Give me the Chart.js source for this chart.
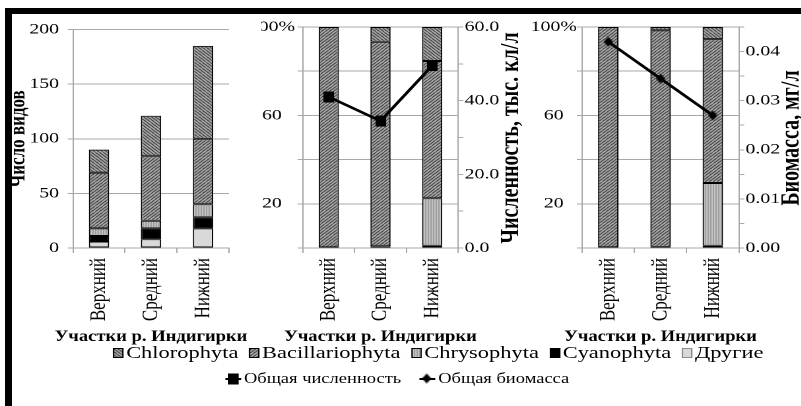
<!DOCTYPE html>
<html><head><meta charset="utf-8">
<script src="https://cdn.jsdelivr.net/npm/chart.js@4"></script>
<style>
html,body{margin:0;padding:0;background:#fff;width:801px;height:406px;overflow:hidden;}
#stage{position:absolute;left:0;top:0;width:607px;height:406px;transform:scaleX(1.32);transform-origin:0 0;}
.wrap{position:absolute;top:14px;height:338px;}
#frame{position:absolute;left:5px;top:8px;width:796px;height:398px;border-top:6px solid #000;border-left:7px solid #000;box-sizing:border-box;z-index:5;pointer-events:none;}
.legend{position:absolute;white-space:nowrap;font-family:'Liberation Serif';font-size:17px;line-height:20px;color:#000;display:flex;align-items:center;transform:translateX(-50%);}
.item{display:flex;align-items:center;margin:0 4px;}
.item canvas{margin-right:2px;}
</style></head>
<body>
<div id="stage">
  <div class="wrap" style="left:0px;width:198px"><canvas id="c1"></canvas></div>
  <div class="wrap" style="left:198px;width:198px"><canvas id="c2"></canvas></div>
  <div class="wrap" style="left:396px;width:216px"><canvas id="c3"></canvas></div>
  <div class="legend" id="leg1" style="left:332px;top:343px"></div>
  <div class="legend" id="leg2" style="left:301px;top:369px;font-size:14px"></div>
</div>
<div id="frame"></div>
<script>
// ---- data ----
const categories = ['Верхний', 'Средний', 'Нижний'];
const groupNames = ['Chlorophyta', 'Bacillariophyta', 'Chrysophyta', 'Cyanophyta', 'Другие'];
const lineNames = ['Общая численность', 'Общая биомасса'];
// Panel 1: number of species
const speciesChlorophyta = [21, 37, 85];
const speciesBacillariophyta = [51, 59, 60];
const speciesChrysophyta = [7, 7, 12];
const speciesCyanophyta = [5, 10, 10];
const speciesOther = [6, 8, 18];
// Panel 2: share of abundance, %
const abundChlorophyta = [0, 6.7, 15.4];
const abundBacillariophyta = [100, 92.5, 62.1];
const abundChrysophyta = [0, 0, 21.5];
const abundCyanophyta = [0, 0, 0];
const abundOther = [0, 0.8, 1.0];
const totalAbundance = [41, 34.5, 49.5];
// Panel 3: share of biomass, %
const bioChlorophyta = [0, 1.5, 5.5];
const bioBacillariophyta = [100, 98.0, 65.1];
const bioChrysophyta = [0, 0, 28.4];
const bioCyanophyta = [0, 0, 0];
const bioOther = [0, 0.5, 1.0];
const totalBiomass = [0.042, 0.0345, 0.027];
// tick labels and titles
const percentTickLabels = {20: '20', 60: '60', 100: '100%'};
const xTitle = 'Участки р. Индигирки';
const y1Title = 'Число видов';
const y2Title = 'Численность, тыс. кл/л';
const y3Title = 'Биомасса, мг/л';

// ---- styles ----
const GRID = '#a8a8a8';
const XFONT = {family: 'Liberation Serif', size: 17};
const YFONT = {family: 'Liberation Serif', size: 15};
const TFONT = {family: 'Liberation Serif', size: 17, weight: 'bold'};
Chart.defaults.font.family = 'Liberation Serif';
Chart.defaults.color = '#000';

function makeTile(kind) {
  const c = document.createElement('canvas');
  const x = c.getContext('2d');
  if (kind === 'back' || kind === 'fwd') {
    c.width = 6; c.height = 6;
    x.fillStyle = '#fff'; x.fillRect(0, 0, 6, 6);
    x.strokeStyle = '#000'; x.lineWidth = 1.1; x.beginPath();
    if (kind === 'fwd') {
      for (let k = -6; k <= 12; k += 3) { x.moveTo(k, 6); x.lineTo(k + 6, 0); }
    } else {
      for (let k = -6; k <= 12; k += 3) { x.moveTo(k, 0); x.lineTo(k + 6, 6); }
    }
    x.stroke();
  } else if (kind === 'vert') {
    c.width = 2; c.height = 2;
    x.fillStyle = '#d4d4d4'; x.fillRect(0, 0, 2, 2);
    x.fillStyle = '#8c8c8c'; x.fillRect(0, 0, 1, 2);
  }
  return c;
}
const tmp = document.createElement('canvas').getContext('2d');
const FILLS = [
  tmp.createPattern(makeTile('back'), 'repeat'),
  tmp.createPattern(makeTile('fwd'), 'repeat'),
  tmp.createPattern(makeTile('vert'), 'repeat'),
  '#000000',
  '#d9d9d9'
];

function marker(kind) {
  const c = document.createElement('canvas');
  const x = c.getContext('2d');
  if (kind === 'rect') {
    c.width = 8; c.height = 11; x.fillStyle = '#000'; x.fillRect(0, 0, 8, 11);
  } else {
    c.width = 7; c.height = 10; x.fillStyle = '#000';
    x.beginPath(); x.moveTo(3.5, 0); x.lineTo(7, 5); x.lineTo(3.5, 10); x.lineTo(0, 5); x.closePath(); x.fill();
  }
  return c;
}

function barSets(arrs) {
  // stack from bottom: Другие, Cyanophyta, Chrysophyta, Bacillariophyta, Chlorophyta
  const order = [4, 3, 2, 1, 0];
  return order.map(i => ({
    type: 'bar', label: groupNames[i], data: arrs[i], backgroundColor: FILLS[i],
    borderColor: '#000', borderWidth: 1, borderSkipped: false,
    barPercentage: 0.39, categoryPercentage: 1, yAxisID: 'y', order: 1, stack: 's'
  }));
}

function xScale() {
  return {
    type: 'category', stacked: true,
    grid: {display: true, drawOnChartArea: false, offset: true, color: GRID, tickLength: 5},
    border: {color: GRID},
    ticks: {font: XFONT, color: '#000', minRotation: 90, maxRotation: 90, padding: 5, autoSkip: false},
    afterFit: s => { s.height = 104; }
  };
}
function pctScale(w, pad) {
  return {
    stacked: true, min: 0, max: 100,
    ticks: {stepSize: 20, font: YFONT, color: '#000', padding: pad, crossAlign: 'center',
      callback: v => percentTickLabels[v] || ''},
    grid: {color: GRID, tickLength: 4}, border: {color: GRID},
    afterFit: s => { s.width = w; }
  };
}
// axis titles drawn as text (x title without width squeezing, right titles reading upwards)
function titles(rightText, rx, ry) {
  return {
    id: 'titles',
    afterDraw(chart) {
      const c = chart.ctx, a = chart.chartArea;
      c.save();
      c.fillStyle = '#000'; c.textAlign = 'center'; c.textBaseline = 'middle';
      c.font = 'bold 16px "Liberation Serif"';
      c.save();
      c.translate((a.left + a.right) / 2, 323); c.scale(0.88, 1);
      c.fillText(xTitle, 0, 0);
      c.restore();
      if (rightText) {
        c.font = 'bold 20px "Liberation Serif"';
        c.translate(rx, ry); c.rotate(-Math.PI / 2); c.fillText(rightText, 0, 0);
      }
      c.restore();
    }
  };
}
const common = {
  responsive: true, maintainAspectRatio: false, animation: false, devicePixelRatio: 2,
  plugins: {legend: {display: false}, tooltip: {enabled: false}}
};

// Panel 1
new Chart(document.getElementById('c1'), {
  type: 'bar',
  data: {labels: categories, datasets: barSets([speciesChlorophyta, speciesBacillariophyta, speciesChrysophyta, speciesCyanophyta, speciesOther])},
  options: Object.assign({}, common, {
    layout: {padding: {top: 13, right: 24.5, left: 0, bottom: 0}},
    scales: {
      x: xScale(),
      y: {stacked: true, min: 0, max: 200,
        ticks: {stepSize: 50, font: YFONT, color: '#000', padding: 6.5},
        grid: {color: GRID, tickLength: 4}, border: {color: GRID},
        title: {display: true, text: y1Title, font: TFONT, color: '#000', padding: {top: 4, bottom: 4}},
        afterFit: s => { s.width = 55.3; }}
    }
  }),
  plugins: [titles(null)]
});

// Panel 2
new Chart(document.getElementById('c2'), {
  type: 'bar',
  data: {labels: categories, datasets: [
    {type: 'line', label: lineNames[0], data: totalAbundance, yAxisID: 'y1', order: 0,
     borderColor: '#000', borderWidth: 2.5, pointStyle: marker('rect'), pointRadius: 5, fill: false}
  ].concat(barSets([abundChlorophyta, abundBacillariophyta, abundChrysophyta, abundCyanophyta, abundOther]))},
  options: Object.assign({}, common, {
    layout: {padding: {top: 13, right: 0, left: 0, bottom: 0}},
    scales: {
      x: xScale(),
      y: pctScale(31.5, 2),
      y1: {position: 'right', min: 0, max: 60,
        ticks: {stepSize: 10, font: YFONT, color: '#000', padding: 1,
          callback: v => (Math.round(v) % 20 === 0 ? Number(v).toFixed(1) : '')},
        grid: {drawOnChartArea: false, color: GRID, tickLength: 4}, border: {color: GRID},
        afterFit: s => { s.width = 49; }}
    }
  }),
  plugins: [titles(y2Title, 189.5, 124)]
});

// Panel 3
new Chart(document.getElementById('c3'), {
  type: 'bar',
  data: {labels: categories, datasets: [
    {type: 'line', label: lineNames[1], data: totalBiomass, yAxisID: 'y1', order: 0,
     borderColor: '#000', borderWidth: 2.5, pointStyle: marker('diamond'), pointRadius: 5, fill: false}
  ].concat(barSets([bioChlorophyta, bioBacillariophyta, bioChrysophyta, bioCyanophyta, bioOther]))},
  options: Object.assign({}, common, {
    layout: {padding: {top: 13, right: 0, left: 0, bottom: 0}},
    scales: {
      x: xScale(),
      y: pctScale(45, 0),
      y1: {position: 'right', min: 0, max: 0.045,
        ticks: {stepSize: 0.005, font: YFONT, color: '#000', padding: 1,
          callback: v => (Math.round(v * 1000) % 10 === 0 ? Number(v).toFixed(2) : '')},
        grid: {drawOnChartArea: false, color: GRID, tickLength: 4}, border: {color: GRID},
        afterFit: s => { s.width = 52.2; }}
    }
  }),
  plugins: [titles(y3Title, 204, 124)]
});

// ---- legend ----
function swatch(fill, stroke) {
  const c = document.createElement('canvas');
  c.width = 16; c.height = 20; c.style.width = '8px'; c.style.height = '10px';
  const x = c.getContext('2d'); x.scale(2, 2);
  x.fillStyle = fill; x.fillRect(0, 0, 8, 10);
  x.strokeStyle = stroke; x.lineWidth = 1; x.strokeRect(0.5, 0.5, 7, 9);
  return c;
}
function lineSwatch(kind) {
  const c = document.createElement('canvas');
  c.width = 24; c.height = 24; c.style.width = '12px'; c.style.height = '12px';
  const x = c.getContext('2d'); x.scale(2, 2);
  x.strokeStyle = '#000'; x.lineWidth = 2; x.beginPath(); x.moveTo(0, 6); x.lineTo(12, 6); x.stroke();
  x.drawImage(marker(kind), 2, 0.5);
  return c;
}
const leg1 = document.getElementById('leg1');
[0, 1, 2, 3, 4].forEach(i => {
  const it = document.createElement('span'); it.className = 'item';
  it.appendChild(swatch(FILLS[i], i === 4 ? '#8c8c8c' : '#000'));
  it.appendChild(document.createTextNode(groupNames[i]));
  leg1.appendChild(it);
});
const leg2 = document.getElementById('leg2');
['rect', 'diamond'].forEach((k, i) => {
  const it = document.createElement('span'); it.className = 'item';
  it.style.margin = '0 7px';
  it.appendChild(lineSwatch(k));
  it.appendChild(document.createTextNode(lineNames[i]));
  leg2.appendChild(it);
});
</script>
</body></html>
